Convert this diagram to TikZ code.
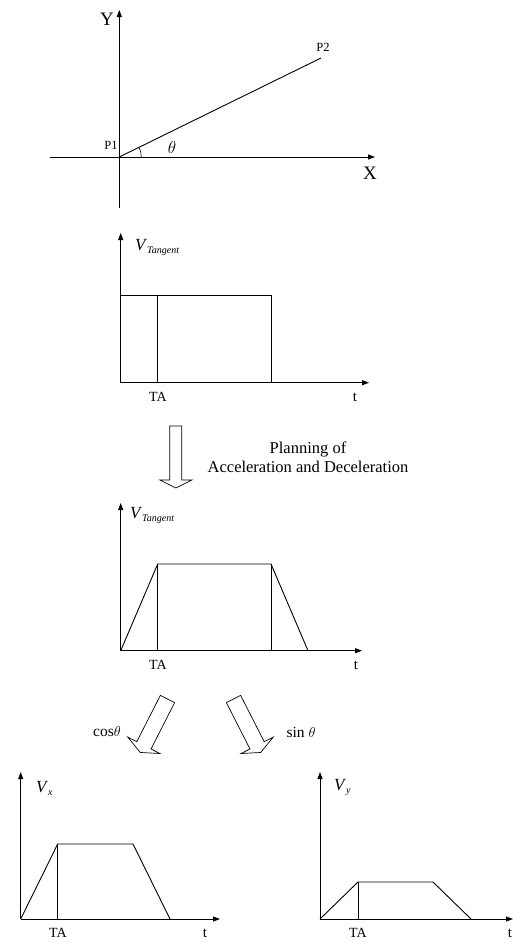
\documentclass[tikz,border=0pt]{standalone}
\usepackage{fontspec}
\setmainfont{Liberation Serif}
\usetikzlibrary{arrows.meta}

\newcommand{\vlab}[1]{{\fontsize{17}{17}\selectfont\textit{V}}\raisebox{-3pt}{\fontsize{10}{10}\selectfont\textit{#1}}}
\newcommand{\hollowarrow}[5]{% name, top, angle, length, half shaft
\draw[line width=0.7pt,shift={(#2)},rotate=#3] (-#5,0)--(-#5,#4-8)--(-#5-10,#4-8)--(0,#4) coordinate (#1)--(#5+10,#4-8)--(#5,#4-8)--(#5,0)--cycle;}

\tikzset{
axis/.style={line width=0.9pt,-{Triangle[length=7pt,width=5pt]}},
prof/.style={line width=0.9pt,line join=round},
lbl/.style={inner sep=0pt,font=\fontsize{14}{14}\selectfont}
}

\begin{document}
\begin{tikzpicture}[x=1pt,y=-1pt]
\useasboundingbox (0,0) rectangle (512,943);
% line P1 P2
\coordinate (p1) at (119.3,157);
\coordinate (p2) at (321,58);
\coordinate (xl) at (50,157);
\coordinate (xr) at (375,157);
\coordinate (yb) at (119.3,208);
\coordinate (yt) at (119.3,10);
\draw[axis] (xl)--(xr);
\draw[axis] (yb)--(yt);
\draw[prof] (p1)--(p2);
\draw[line width=0.6pt] (141.3,157) arc[start angle=0,end angle=-26,radius=22];
\node[lbl,font=\fontsize{19}{19}\selectfont] (ylab) at (107,19) {Y};
\node[lbl,font=\fontsize{19}{19}\selectfont] (xlab) at (370,173) {X};
\node[lbl,font=\fontsize{12.5}{12.5}\selectfont] (p1lab) at (111,145) {P1};
\node[lbl,font=\fontsize{12.5}{12.5}\selectfont] (p2lab) at (323,47) {P2};
\node[lbl,font=\fontsize{16}{16}\selectfont] (thlab) at (172,147) {$\theta$};

% constant tangent speed
\coordinate (o1) at (120.7,382.7);
\draw[axis] (o1)--(369,382.7);
\draw[axis] (o1)--(120.7,233);
\draw[prof] (o1)--(120.7,295)--(271,295)--(271,382.7);
\draw[prof] (157.7,295)--(157.7,382.7);
\node[lbl,anchor=west] (v1) at (135,247) {\vlab{Tangent}};
\node[lbl] (ta1) at (158,397) {TA};
\node[lbl,font=\fontsize{15}{15}\selectfont] (t1) at (355,397) {t};

\hollowarrow{a1}{175.8,426}{0}{62}{6}
\node[lbl,align=center,font=\fontsize{16.5}{19}\selectfont] (plan) at (308,457) {Planning of\\Acceleration and Deceleration};

% after planning
\coordinate (o2) at (120.7,650.7);
\draw[axis] (o2)--(362,650.7);
\draw[axis] (o2)--(120.7,503);
\draw[prof] (o2)--(157.7,564)--(271,564)--(308,650.7);
\draw[prof] (157.7,564)--(157.7,650.7);
\draw[prof] (271,564)--(271,650.7);
\node[lbl,anchor=west] (v2) at (130,515) {\vlab{Tangent}};
\node[lbl] (ta2) at (158,665) {TA};
\node[lbl,font=\fontsize{15}{15}\selectfont] (t2) at (356,665) {t};

\hollowarrow{a2}{167.5,699}{-27}{60}{8}
\hollowarrow{a3}{233.5,699}{27}{60}{8}
\node[lbl,font=\fontsize{15.5}{15.5}\selectfont] (cs) at (107,732) {cos$\theta$};
\node[lbl,font=\fontsize{15.5}{15.5}\selectfont] (sn) at (301,732) {sin $\theta$};

% x component
\coordinate (o3) at (20.7,919);
\draw[axis] (o3)--(220,919);
\draw[axis] (o3)--(20.7,772);
\draw[prof] (o3)--(57.7,844)--(133,844)--(170,919);
\draw[prof] (57.7,844)--(57.7,919);
\node[lbl,anchor=west] (v3) at (36,788) {\vlab{x}};
\node[lbl] (ta3) at (58,933) {TA};
\node[lbl,font=\fontsize{15}{15}\selectfont] (t3) at (205,933) {t};

% y component
\coordinate (o4) at (320,919);
\draw[axis] (o4)--(513,919);
\draw[axis] (o4)--(320,772);
\draw[prof] (o4)--(358,882)--(433,882)--(471,919);
\draw[prof] (358,882)--(358,919);
\node[lbl,anchor=west] (v4) at (334,788) {\vlab{y}};
\node[lbl] (ta4) at (358,933) {TA};
\node[lbl,font=\fontsize{15}{15}\selectfont] (t4) at (510,933) {t};
\end{tikzpicture}
\end{document}
